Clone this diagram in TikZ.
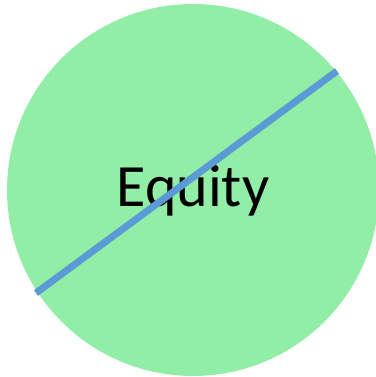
\documentclass[tikz,border=0pt]{standalone}
\usepackage{fontspec}
\setmainfont{Carlito}
\definecolor{eqgreen}{RGB}{146,238,166}
\definecolor{eqblue}{RGB}{91,155,213}
\tikzset{
  disc/.style={circle, fill=eqgreen, draw=none, minimum size=372pt, inner sep=0pt},
  label text/.style={font=\fontsize{60}{72}\selectfont, text=black, anchor=base, inner sep=0pt},
  slash/.style={draw=eqblue, line width=7pt}
}
\begin{document}
\begin{tikzpicture}[x=1pt,y=1pt]
  \useasboundingbox (0,0) rectangle (375,377);
  \node[disc] (circ) at (193,187) {};
  \node[label text] (txt) at (193,170) {Equity};
  \coordinate (a) at (36,84);
  \coordinate (b) at (337,306);
  \draw[slash] (a) -- (b);
\end{tikzpicture}
\end{document}
